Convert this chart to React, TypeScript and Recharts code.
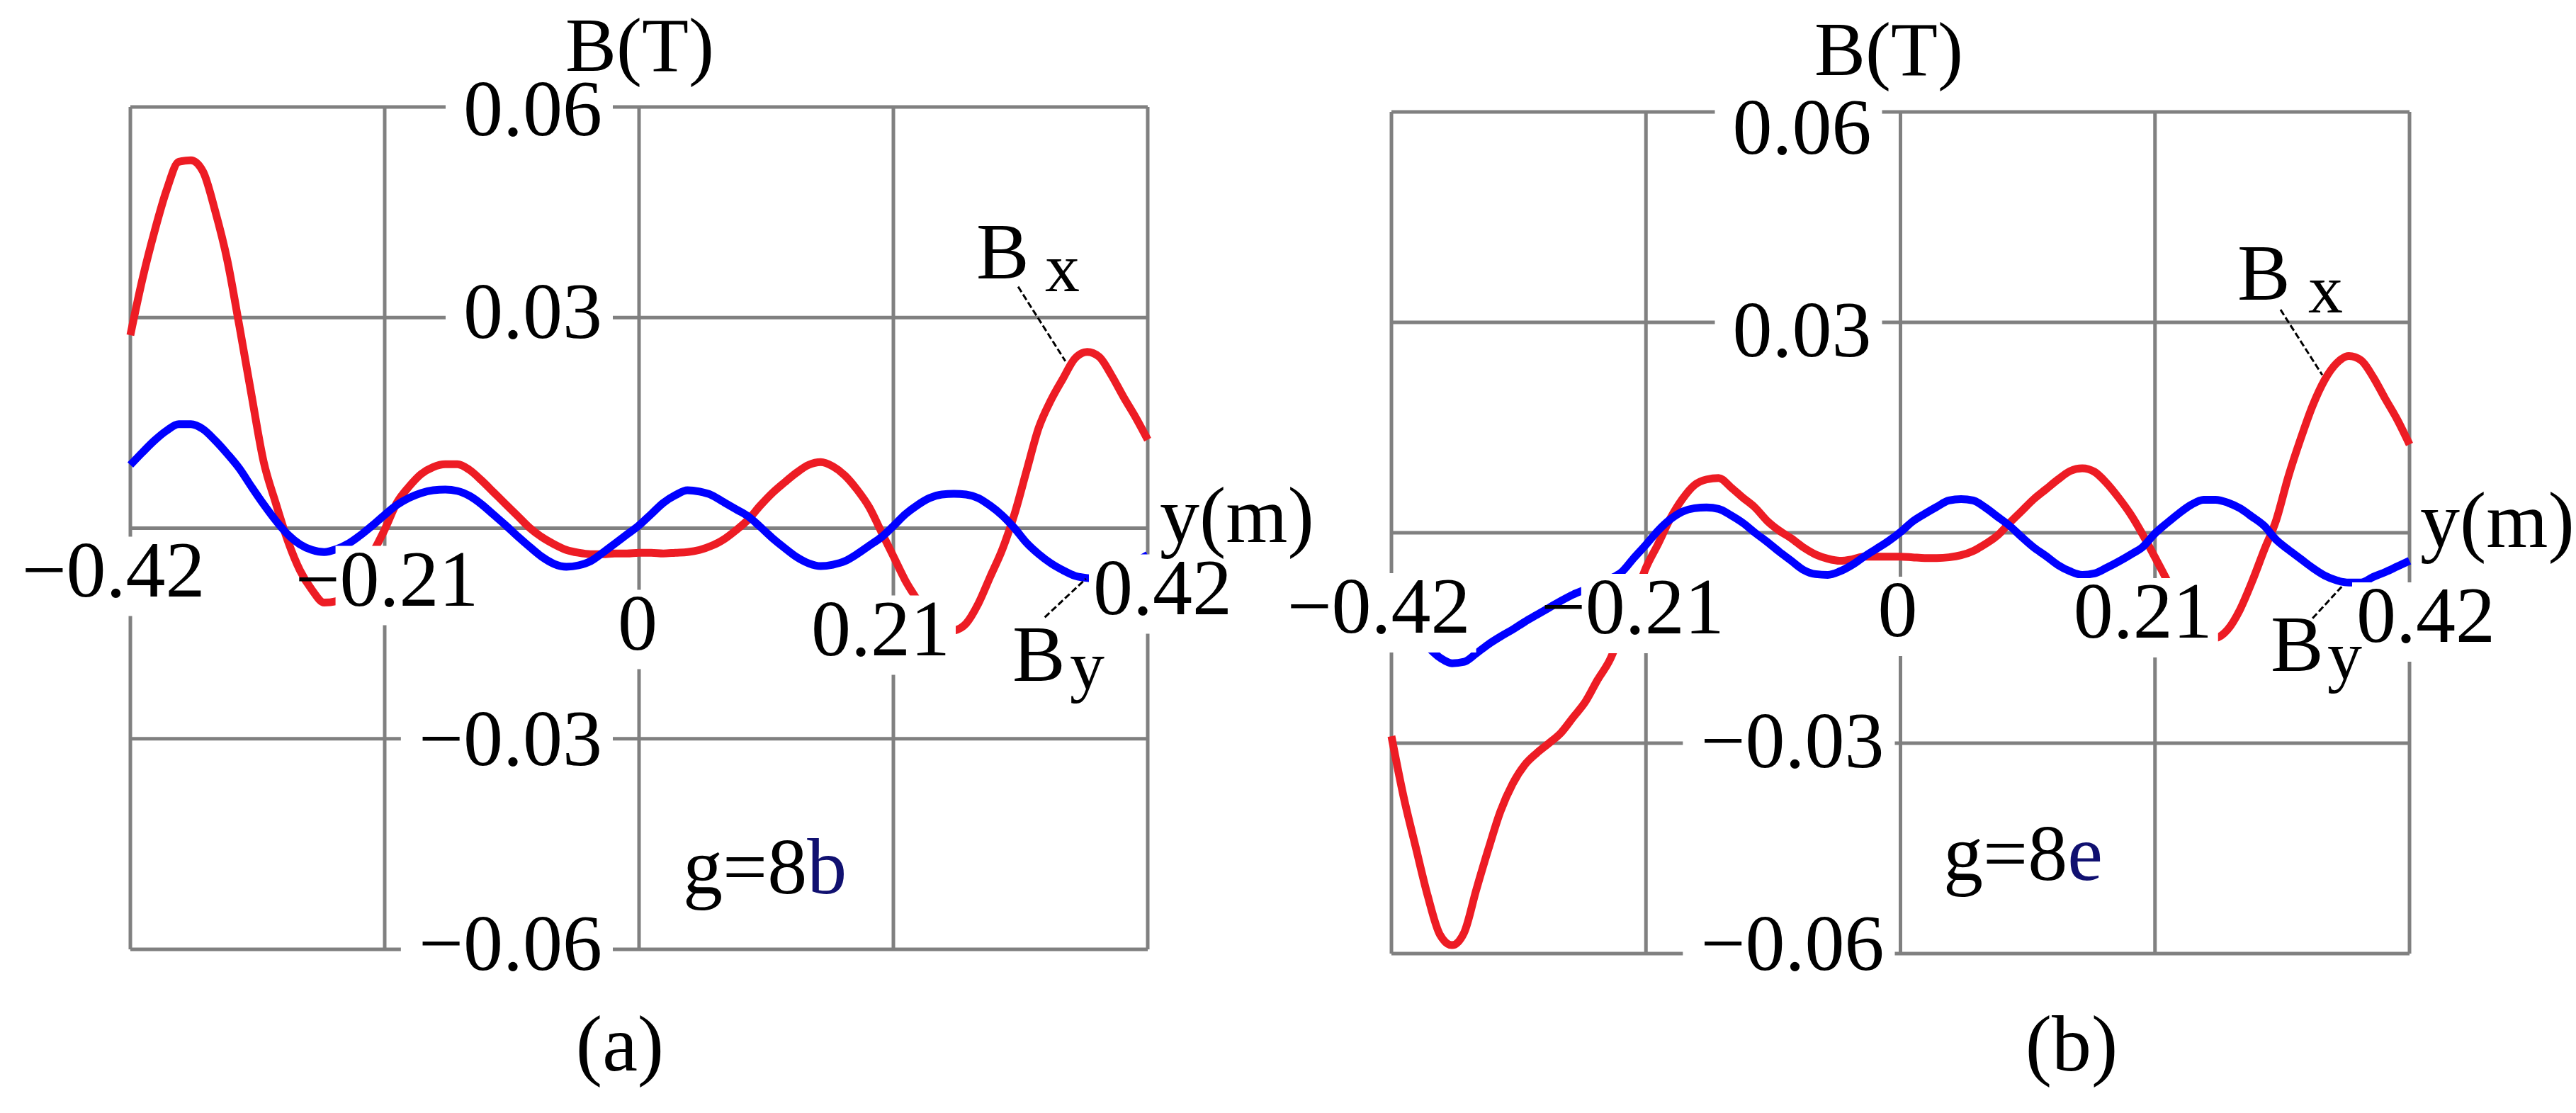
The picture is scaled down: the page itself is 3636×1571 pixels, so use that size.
import { LineChart, Line, XAxis, YAxis, CartesianGrid, ReferenceLine } from "recharts"

// y position along the gap (m), shared by both panels
const positions = [
  -0.42, -0.41, -0.4, -0.39, -0.38, -0.37, -0.36, -0.35, -0.34, -0.33,
  -0.32, -0.31, -0.3, -0.29, -0.28, -0.27, -0.26, -0.25, -0.24, -0.23,
  -0.22, -0.21, -0.2, -0.19, -0.18, -0.17, -0.16, -0.15, -0.14, -0.13,
  -0.12, -0.11, -0.1, -0.09, -0.08, -0.07, -0.06, -0.05, -0.04, -0.03,
  -0.02, -0.01, 0, 0.01, 0.02, 0.03, 0.04, 0.05, 0.06, 0.07,
  0.08, 0.09, 0.1, 0.11, 0.12, 0.13, 0.14, 0.15, 0.16, 0.17,
  0.18, 0.19, 0.2, 0.21, 0.22, 0.23, 0.24, 0.25, 0.26, 0.27,
  0.28, 0.29, 0.3, 0.31, 0.32, 0.33, 0.34, 0.35, 0.36, 0.37,
  0.38, 0.39, 0.4, 0.41, 0.42,
]

// (a) g=8b
const bxA = [
  0.0275, 0.0355, 0.0423, 0.0482, 0.0522, 0.0524, 0.0508, 0.0452, 0.0382, 0.0288,
  0.019, 0.0095, 0.0036, -0.0018, -0.006, -0.0088, -0.0106, -0.0104, -0.0088, -0.0058,
  -0.0035, -0.0002, 0.0036, 0.0059, 0.0077, 0.0087, 0.0091, 0.0091, 0.0083, 0.0068,
  0.0051, 0.0034, 0.0017, 0.0, -0.0013, -0.0023, -0.0031, -0.0035, -0.0037, -0.0037,
  -0.0036, -0.0036, -0.0035,
  -0.0035, -0.0036, -0.0035, -0.0034, -0.0031, -0.0025, -0.0016, -0.0003, 0.0012, 0.0032,
  0.005, 0.0065, 0.0079, 0.009, 0.0094, 0.0088, 0.0075, 0.0055, 0.003, -0.0005,
  -0.004, -0.0075, -0.0103, -0.0132, -0.0148, -0.0146, -0.0136, -0.0108, -0.0069, -0.003,
  0.002, 0.0082, 0.0143, 0.0182, 0.0213, 0.0242, 0.0251, 0.0244, 0.0218, 0.0187,
  0.0158, 0.0126,
]
const byA = [
  0.009, 0.0108, 0.0125, 0.0139, 0.0148, 0.0148, 0.0141, 0.0125, 0.0106, 0.0085,
  0.0059, 0.0034, 0.0011, -0.0009, -0.0023, -0.0031, -0.0034, -0.003, -0.0022, -0.001,
  0.0004, 0.0019, 0.0033, 0.0043, 0.005, 0.0054, 0.0055, 0.0053, 0.0046, 0.0034,
  0.0019, 0.0004, -0.0012, -0.0027, -0.0041, -0.0051, -0.0055, -0.0053, -0.0047, -0.0035,
  -0.0022, -0.0009, 0.0004,
  0.002, 0.0036, 0.0047, 0.0054, 0.0052, 0.0047, 0.0037, 0.0027, 0.0017, 0.0002,
  -0.0014, -0.0028, -0.0041, -0.005, -0.0054, -0.0052, -0.0047, -0.0037, -0.0025, -0.0013,
  0.0003, 0.002, 0.0033, 0.0043, 0.0048, 0.0049, 0.0048, 0.0043, 0.0032, 0.0018,
  0.0, -0.0021, -0.0037, -0.005, -0.006, -0.0068, -0.0071, -0.0072, -0.0067, -0.0058,
  -0.0048, -0.0038,
]

// (b) g=8e
const bxB = [
  -0.029, -0.0376, -0.0448, -0.0518, -0.0573, -0.0588, -0.057, -0.0509, -0.0451, -0.0397,
  -0.0358, -0.0331, -0.0314, -0.03, -0.0285, -0.0263, -0.0241, -0.021, -0.0182, -0.014,
  -0.0097, -0.005, -0.0016, 0.002, 0.0048, 0.0068, 0.0076, 0.0078, 0.0065, 0.005,
  0.0036, 0.0017, 0.0003, -0.0008, -0.0021, -0.0031, -0.0037, -0.004, -0.0038, -0.0034,
  -0.0034, -0.0034, -0.0034,
  -0.0035, -0.0036, -0.0036, -0.0035, -0.0032, -0.0026, -0.0016, -0.0004, 0.0014, 0.0031,
  0.0048, 0.0062, 0.0076, 0.0088, 0.0092, 0.0087, 0.0071, 0.005, 0.0026, -0.0003,
  -0.0035, -0.0068, -0.0105, -0.0135, -0.0151, -0.015, -0.0138, -0.011, -0.007, -0.0025,
  0.0018, 0.008, 0.0133, 0.0181, 0.0218, 0.0242, 0.0252, 0.0246, 0.0222, 0.0191,
  0.0161, 0.0126,
]
const byB = [
  -0.012, -0.0135, -0.015, -0.0163, -0.0178, -0.0186, -0.0184, -0.0172, -0.0159, -0.0148,
  -0.0138, -0.0127, -0.0117, -0.0107, -0.0097, -0.0088, -0.0081, -0.0074, -0.0066, -0.0056,
  -0.0036, -0.0017, 0.0003, 0.0019, 0.003, 0.0035, 0.0036, 0.0034, 0.0025, 0.0014,
  0.0, -0.0013, -0.0027, -0.004, -0.0053, -0.0059, -0.006, -0.0055, -0.0046, -0.0034,
  -0.0023, -0.0012, 0.0001,
  0.0016, 0.0027, 0.0037, 0.0046, 0.0048, 0.0046, 0.0036, 0.0023, 0.001, -0.0006,
  -0.0021, -0.0033, -0.0046, -0.0055, -0.006, -0.0058, -0.005, -0.0041, -0.0031, -0.002,
  -0.0001, 0.0014, 0.0028, 0.004, 0.0047, 0.0047, 0.0043, 0.0035, 0.0023, 0.001,
  -0.001, -0.0024, -0.0037, -0.005, -0.0061, -0.0068, -0.0071, -0.0071, -0.0063, -0.0056,
  -0.0048, -0.004,
]

const xTicks = [-0.42, -0.21, 0, 0.21, 0.42]
const xTickLabels = ["−0.42", "−0.21", "0", "0.21", "0.42"]
const yTicks = [-0.06, -0.03, 0, 0.03, 0.06]
const yTickLabels = ["−0.06", "−0.03", "", "0.03", "0.06"]

const W = 3636
const H = 1571
const FONT = "'Liberation Serif', 'Times New Roman', serif"
const FS = 112
const GRID = "#808080"
const RED = "#ED1C24"
const BLUE = "#0000FF"

const textWidth = (s: string, fs: number) =>
  [...s].reduce((w, c) => w + (c === "−" ? 0.564 : c === "." ? 0.25 : 0.5) * fs, 0)

type Pt = { x: number; y: number }
type PanelDef = {
  key: string
  bx: number[]
  by: number[]
  left: number
  width: number
  margin: { top: number; right: number; bottom: number; left: number }
  xOff: [number, number][] // label centre shift, baseline below zero line
  yOff: [number, number][] // right edge from centre line, baseline below grid line
  bxLeader: [Pt, Pt]
  byLeader: [Pt, Pt]
}

// axes take 1px each (a 0-sized axis draws no ticks), so margins are 1px short
const panels: PanelDef[] = [
  {
    key: "a",
    bx: bxA,
    by: byA,
    left: 0,
    width: 1800,
    margin: { top: 151, right: 180, bottom: 230, left: 183 },
    xOff: [[-24, 96], [3, 109], [-2, 171], [-18, 179], [21, 121]],
    yOff: [[-52, 29], [-52, 37], [0, 0], [-52, 29], [-52, 40]],
    bxLeader: [{ x: 0.313, y: 0.0344 }, { x: 0.352, y: 0.0238 }],
    byLeader: [{ x: 0.335, y: -0.0127 }, { x: 0.369, y: -0.0072 }],
  },
  {
    key: "b",
    bx: bxB,
    by: byB,
    left: 1780,
    width: 1856,
    margin: { top: 158, right: 235, bottom: 224, left: 183 },
    xOff: [[-18, 141], [-19, 142], [-4, 146], [-17, 148], [23, 154]],
    yOff: [[-23, 23], [-23, 34], [0, 0], [-41, 48], [-41, 59]],
    bxLeader: [{ x: 0.3136, y: 0.0318 }, { x: 0.348, y: 0.0225 }],
    byLeader: [{ x: 0.34, y: -0.0122 }, { x: 0.364, y: -0.0077 }],
  },
]

function FieldPanel({ p }: { p: PanelDef }) {
  const data = positions.map((pos, i) => ({ pos, bx: p.bx[i], by: p.by[i] }))
  const plotLeft = p.margin.left + 1
  const plotW = p.width - plotLeft - p.margin.right
  const plotH = H - p.margin.top - p.margin.bottom - 1
  const cx = plotLeft + plotW / 2
  const zeroY = p.margin.top + plotH / 2

  const renderXTick = (props: any) => {
    const i = xTicks.indexOf(props.payload.value)
    if (i < 0) return <g />
    const label = xTickLabels[i]
    const [dx, dy] = p.xOff[i]
    const w = textWidth(label, FS)
    const mx = props.x + dx
    const base = zeroY + dy
    const minus = label.startsWith("−") ? 0.564 * FS : 0
    return (
      <g>
        <rect x={mx - w / 2 + minus - 6} y={base - 84} width={w - minus + 14} height={112} fill="#fff" />
        <text x={mx} y={base} textAnchor="middle" fontFamily={FONT} fontSize={FS} fill="#000">
          {label}
        </text>
      </g>
    )
  }

  const renderYTick = (props: any) => {
    const i = yTicks.indexOf(props.payload.value)
    const label = yTickLabels[i]
    if (i < 0 || !label) return <g />
    const [rx, dy] = p.yOff[i]
    const right = cx + rx
    const base = props.y + dy
    const w = textWidth(label, FS)
    return (
      <g>
        <rect x={right - w - 25} y={base - 86} width={w + 40} height={98} fill="#fff" />
        <text x={right} y={base} textAnchor="end" fontFamily={FONT} fontSize={FS} fill="#000">
          {label}
        </text>
      </g>
    )
  }

  return (
    <div style={{ position: "absolute", left: p.left, top: 0 }}>
      <LineChart width={p.width} height={H} data={data} margin={p.margin}>
        <CartesianGrid stroke={GRID} strokeWidth={5} fill="none" />
        <Line
          type="monotone"
          dataKey="bx"
          stroke={RED}
          strokeWidth={11}
          dot={false}
          isAnimationActive={false}
        />
        <Line
          type="monotone"
          dataKey="by"
          stroke={BLUE}
          strokeWidth={11}
          dot={false}
          isAnimationActive={false}
        />
        <ReferenceLine segment={p.bxLeader} stroke="#000" strokeWidth={3} strokeDasharray="9 4" />
        <ReferenceLine segment={p.byLeader} stroke="#000" strokeWidth={3} strokeDasharray="9 4" />
        <XAxis
          type="number"
          dataKey="pos"
          domain={[-0.42, 0.42]}
          ticks={xTicks}
          interval={0}
          height={1}
          axisLine={false}
          tickLine={false}
          tick={renderXTick}
        />
        <YAxis
          type="number"
          domain={[-0.06, 0.06]}
          ticks={yTicks}
          interval={0}
          width={1}
          axisLine={false}
          tickLine={false}
          tick={renderYTick}
        />
      </LineChart>
    </div>
  )
}

const T = (props: any) => <text fontFamily={FONT} fontSize={FS} fill="#000" {...props} />

export default function App() {
  return (
    <div style={{ position: "absolute", left: 0, top: 0, width: W, height: H, background: "#fff" }}>
      {panels.map((p) => (
        <FieldPanel key={p.key} p={p} />
      ))}
      <svg
        width={W}
        height={H}
        style={{ position: "absolute", left: 0, top: 0, pointerEvents: "none" }}
      >
        {/* panel (a) */}
        <T x={798} y={100} fontSize={108}>B(T)</T>
        <T x={1637} y={765}>y(m)</T>
        <T x={1378} y={393}>B</T>
        <T x={1475} y={411} fontSize={98}>x</T>
        <T x={1429} y={961}>B</T>
        <T x={1510} y={972} fontSize={98}>y</T>
        <T x={964} y={1261}>
          g=8<tspan fill="#101070">b</tspan>
        </T>
        <T x={875} y={1511} textAnchor="middle">(a)</T>
        {/* panel (b) */}
        <T x={2561} y={106} fontSize={108}>B(T)</T>
        <T x={3416} y={772}>y(m)</T>
        <T x={3158} y={423}>B</T>
        <T x={3258} y={441} fontSize={98}>x</T>
        <T x={3205} y={947}>B</T>
        <T x={3285} y={958} fontSize={98}>y</T>
        <T x={2743} y={1242}>
          g=8<tspan fill="#101070">e</tspan>
        </T>
        <T x={2924} y={1511} textAnchor="middle">(b)</T>
      </svg>
    </div>
  )
}
